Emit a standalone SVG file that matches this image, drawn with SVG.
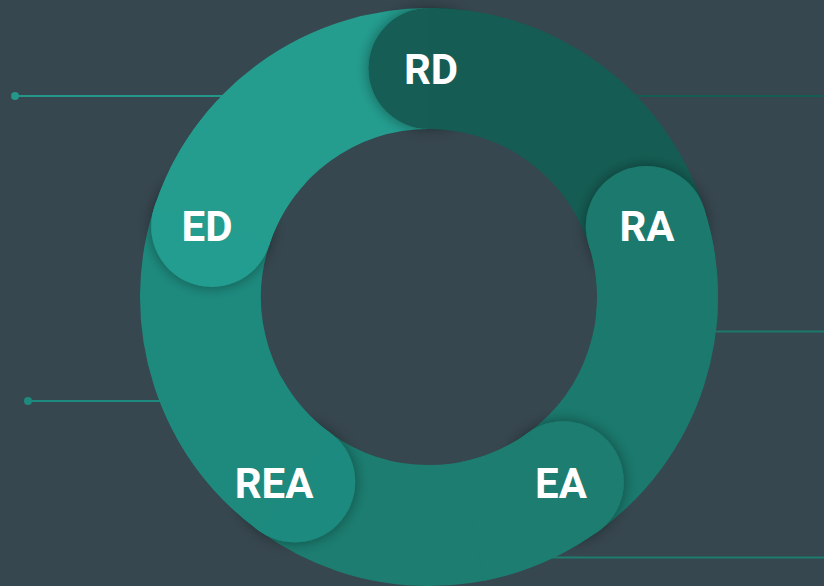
<svg xmlns="http://www.w3.org/2000/svg" width="824" height="586" viewBox="0 0 824 586">
<style>
.seg{fill:none;stroke-width:121;stroke-linecap:butt}
.lbl{font-family:Roboto,"Liberation Sans",sans-serif;font-weight:bold;font-size:42px;fill:#ffffff;text-anchor:middle}
.ln{stroke-width:2;fill:none}
</style>
<defs>
<filter id="sh" x="-50%" y="-50%" width="200%" height="200%">
<feDropShadow dx="0" dy="0" stdDeviation="7" flood-color="#000" flood-opacity="0.4"/>
</filter>
</defs>
<rect width="824" height="586" fill="#37474f"/>
<g id="connectors">
<line class="ln" x1="15" y1="96" x2="230" y2="96" stroke="#22978a"/>
<circle cx="15" cy="96" r="4" fill="#22978a"/>
<line class="ln" x1="28" y1="401" x2="170" y2="401" stroke="#1e8a7e"/>
<circle cx="28" cy="401" r="4" fill="#1e8a7e"/>
<line class="ln" x1="620" y1="96" x2="824" y2="96" stroke="#155d54"/>
<line class="ln" x1="700" y1="331.5" x2="824" y2="331.5" stroke="#1b796d"/>
<line class="ln" x1="540" y1="557.5" x2="824" y2="557.5" stroke="#1c7d70"/>
</g>
<g id="ring">
<path class="seg" stroke="#155d54" d="M429,68.5 A228.5,228.5 0 0 1 646.32,226.39"/>
<path class="seg" stroke="#1b796d" d="M646.32,226.39 A228.5,228.5 0 0 1 563.31,481.86"/>
<path class="seg" stroke="#1c7d70" d="M563.31,481.86 A228.5,228.5 0 0 1 294.69,481.86"/>
<path class="seg" stroke="#1e8a7e" d="M294.69,481.86 A228.5,228.5 0 0 1 211.68,226.39"/>
<path class="seg" stroke="#249d8f" d="M211.68,226.39 A228.5,228.5 0 0 1 429,68.5"/>
</g>
<g id="node-RD">
<circle cx="429" cy="68.5" r="60.5" fill="#155d54" filter="url(#sh)"/>
<path class="seg" stroke="#155d54" d="M429,68.5 A228.5,228.5 0 0 1 525.57,89.91"/>
<text class="lbl" x="431" y="84">RD</text>
</g>
<g id="node-RA">
<circle cx="646.32" cy="226.39" r="60.5" fill="#1b796d" filter="url(#sh)"/>
<path class="seg" stroke="#1b796d" d="M646.32,226.39 A228.5,228.5 0 0 1 655.80,324.85"/>
<text class="lbl" x="647" y="241">RA</text>
</g>
<g id="node-EA">
<circle cx="563.31" cy="481.86" r="60.5" fill="#1c7d70" filter="url(#sh)"/>
<path class="seg" stroke="#1c7d70" d="M563.31,481.86 A228.5,228.5 0 0 1 472.60,521.30"/>
<text class="lbl" x="561" y="498">EA</text>
</g>
<g id="node-REA">
<circle cx="294.69" cy="481.86" r="60.5" fill="#1e8a7e" filter="url(#sh)"/>
<path class="seg" stroke="#1e8a7e" d="M294.69,481.86 A228.5,228.5 0 0 1 229.15,407.78"/>
<text class="lbl" x="274" y="498">REA</text>
</g>
<g id="node-ED">
<circle cx="211.68" cy="226.39" r="60.5" fill="#249d8f" filter="url(#sh)"/>
<path class="seg" stroke="#249d8f" d="M211.68,226.39 A228.5,228.5 0 0 1 261.89,141.16"/>
<text class="lbl" x="207" y="241">ED</text>
</g>
</svg>
